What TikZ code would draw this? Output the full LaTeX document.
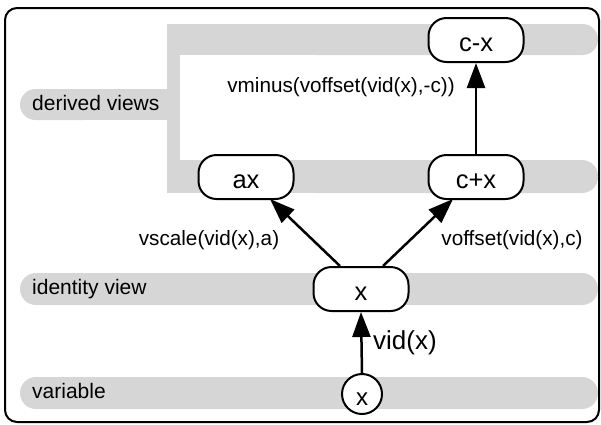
\documentclass[tikz,border=0pt]{standalone}
\usepackage{fontspec}
\setmainfont{Liberation Sans}
\usetikzlibrary{arrows.meta,calc}
\definecolor{bandgray}{RGB}{214,214,214}
\tikzset{
  band/.style={fill=bandgray},
  viewbox/.style={draw, fill=white, line width=2pt, rounded corners=18pt,
    minimum width=95pt, minimum height=44pt, inner sep=0pt,
    text height=22pt, text depth=0pt, font=\fontsize{25.5}{30}\selectfont},
  varcircle/.style={draw, fill=white, circle, line width=2pt, minimum size=40pt,
    inner sep=0pt, text height=22pt, text depth=0pt, font=\fontsize{24}{28}\selectfont},
  rowlabel/.style={anchor=base west, inner sep=0pt, font=\fontsize{21}{24}\selectfont},
  oplabel/.style={anchor=base, inner sep=0pt, font=\fontsize{20.7}{24}\selectfont},
  arr/.style={line width=2.5pt, -{Triangle[length=25pt,width=18pt]}}
}
\begin{document}
\begin{tikzpicture}[x=1pt,y=-1pt]
\useasboundingbox (0,0) rectangle (601,424);
% outer frame
\draw[line width=2pt, rounded corners=12pt] (5,8) rectangle (599,422);
% derived views bracket
\fill[band] (167,24) rectangle (400,55);
\fill[band, rounded corners=15.5pt] (300,24) rectangle (598,55);
\fill[band] (167,160) rectangle (400,193);
\fill[band, rounded corners=16pt] (300,160) rectangle (598,193);
\fill[band] (167,24) rectangle (180,193);
\fill[band, rounded corners=15.5pt] (20,89) rectangle (100,120);
\fill[band] (60,89) rectangle (170,120);
% identity view and variable rows
\fill[band, rounded corners=16pt] (20,273) rectangle (598,305);
\fill[band, rounded corners=16pt] (20,377) rectangle (598,409);
% row labels
\node[rowlabel] (lderived) at (32,110) {derived views};
\node[rowlabel] (lident) at (32,294) {identity view};
\node[rowlabel] (lvar) at (32,398) {variable};
% views
\node[viewbox] (cmx) at (476,40) {c-x};
\node[viewbox] (cpx) at (476,177) {c+x};
\node[viewbox] (ax) at (246,177) {ax};
\node[viewbox] (xv) at (361,289) {x};
\node[varcircle] (xvar) at (362,394) {x};
% connectors
\draw[arr] (xvar.north) -- (xv.south);
\draw[arr] ($(xv.north)+(-21,0)$) -- ($(ax.south)+(24,-1)$);
\draw[arr] ($(xv.north)+(22,0)$) -- ($(cpx.south)+(-23,-1)$);
\draw[arr] (cpx.north) -- (cmx.south);
% connector labels
\node[oplabel] (lminus) at (341,92) {vminus(voffset(vid(x),-c))};
\node[oplabel] (lscale) at (209,245) {vscale(vid(x),a)};
\node[oplabel] (loffset) at (512,245) {voffset(vid(x),c)};
\node[anchor=base west, inner sep=0pt, font=\fontsize{26}{30}\selectfont] (lvid) at (373,349) {vid(x)};
\end{tikzpicture}
\end{document}
